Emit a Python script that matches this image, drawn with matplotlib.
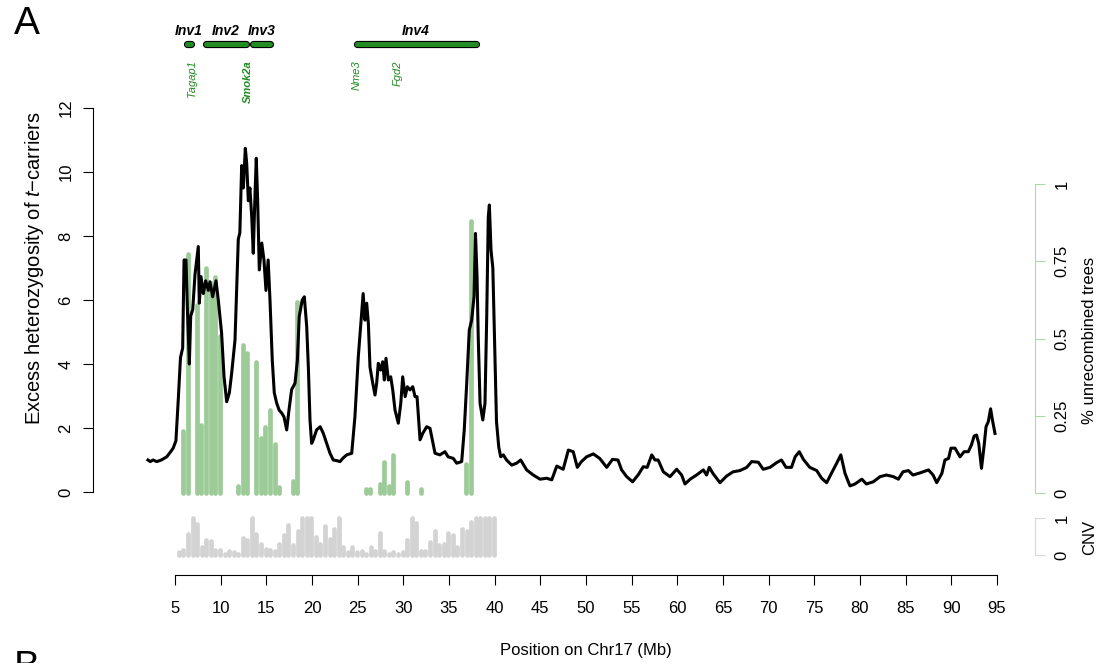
import numpy as np
import matplotlib
matplotlib.use("Agg")
import matplotlib.pyplot as plt

plt.rcParams['font.family'] = ['Liberation Sans', 'DejaVu Sans']
plt.rcParams['mathtext.fontset'] = 'custom'
plt.rcParams['mathtext.rm'] = 'Liberation Sans'
plt.rcParams['mathtext.it'] = 'Liberation Sans:italic'

# excess heterozygosity along chr17 (Mb, value)
het_pos = [2.04, 2.3, 2.6, 3.0, 3.5, 4.1, 4.5, 4.8, 5.1, 5.36, 5.6, 5.84, 5.99, 6.2, 6.35,
           6.57, 6.72, 6.94, 7.19, 7.55, 7.66, 7.85, 8.1, 8.36, 8.65, 8.83, 9.12, 9.49, 9.74,
           10.1, 10.37, 10.66, 10.95, 11.2, 11.57, 11.93, 12.1, 12.3, 12.48, 12.7, 12.85, 13.03,
           13.2, 13.4, 13.57, 13.76, 13.9, 14.05, 14.23, 14.5, 14.74, 14.96, 15.2, 15.4, 15.65,
           15.87, 16.13, 16.4, 16.7, 16.93, 17.23, 17.48, 17.77, 18.14, 18.4, 18.6, 18.93, 19.16,
           19.42, 19.6, 19.78, 19.96, 20.14, 20.5, 20.9, 21.24, 21.6, 21.97, 22.33, 22.7, 23.07,
           23.4, 23.8, 24.35, 24.7, 25.07, 25.4, 25.6, 25.8, 25.99, 26.17, 26.35, 26.65, 26.9,
           27.08, 27.26, 27.52, 27.74, 27.92, 28.1, 28.36, 28.62, 28.84, 29.09, 29.45, 29.72,
           29.93, 30.2, 30.44, 30.73, 31.03, 31.28, 31.5, 31.83, 32.12, 32.56, 32.92, 33.17,
           33.47, 34.0, 34.56, 34.9, 35.47, 35.84, 36.39, 36.67, 36.94, 37.22, 37.48, 37.74,
           37.9, 38.07, 38.2, 38.4, 38.7, 38.94, 39.13, 39.3, 39.42, 39.6, 39.8, 39.93, 40.2,
           40.45, 40.66, 40.95, 41.3, 41.86, 42.4, 42.85, 43.5, 44.23, 44.97, 45.7, 46.25, 46.8,
           47.5, 48.07, 48.6, 49.05, 49.5, 50.07, 50.8, 51.5, 52.27, 52.9, 53.5, 53.9, 54.45,
           55.1, 55.7, 56.27, 56.7, 57.2, 57.55, 57.9, 58.47, 59.2, 59.93, 60.47, 60.84, 61.4,
           62.1, 62.85, 63.2, 63.5, 63.9, 64.67, 65.4, 66.1, 66.86, 67.6, 68.14, 68.87, 69.4,
           70.15, 70.88, 71.4, 71.9, 72.5, 72.9, 73.35, 73.8, 74.5, 75.26, 75.8, 76.35, 76.9,
           77.45, 77.9, 78.36, 78.9, 79.45, 80.2, 80.7, 81.46, 82.2, 82.9, 83.65, 84.2, 84.7,
           85.3, 85.8, 86.6, 87.5, 88.0, 88.4, 88.96, 89.3, 89.7, 89.96, 90.4, 90.95, 91.4,
           91.86, 92.2, 92.5, 92.76, 93.0, 93.3, 93.58, 93.8, 94.05, 94.3, 94.5, 94.78]
het_val = [1.0, 0.95, 1.0, 0.95, 1.0, 1.1, 1.25, 1.37, 1.6, 2.9, 4.2, 4.5, 7.25, 7.25, 5.8,
           4.0, 5.5, 5.7, 6.8, 7.67, 5.9, 6.73, 6.2, 6.6, 6.3, 6.57, 6.1, 6.6, 6.0,
           4.97, 3.6, 2.82, 3.1, 3.7, 4.75, 7.9, 8.1, 10.2, 9.5, 10.74, 10.27, 9.1,
           9.5, 8.6, 7.46, 9.3, 10.43, 9.1, 6.94, 7.78, 7.25, 6.3, 7.25, 6.0, 4.12,
           3.1, 2.78, 2.56, 2.46, 2.35, 1.94, 2.56, 3.2, 3.4, 4.12, 5.48, 6.0, 6.1,
           5.17, 3.9, 2.25, 1.52, 1.63, 1.94, 2.04, 1.83, 1.52, 1.21, 1.0, 0.98, 0.95,
           1.06, 1.16, 1.21, 2.35, 4.23, 5.48, 6.2, 5.37, 5.9, 5.27, 3.9, 3.4, 3.03,
           3.4, 4.02, 3.81, 4.07, 3.5, 4.18, 3.5, 3.6, 3.19, 2.56, 2.15, 2.77,
           3.6, 2.98, 3.29, 3.19, 3.29, 2.98, 2.98, 1.63, 1.83, 2.04, 1.99, 1.63,
           1.21, 1.16, 1.26, 1.1, 1.05, 0.9, 0.95, 1.94, 3.4, 5.06, 5.37, 6.1,
           8.08, 6.73, 4.85, 2.77, 2.25, 2.77, 5.48, 8.6, 8.97, 7.56, 7.0, 5.48, 2.2,
           1.4, 1.1, 1.16, 1.0, 0.84, 0.9, 1.0, 0.69, 0.53, 0.4, 0.43, 0.38, 0.81,
           0.71, 1.31, 1.26, 0.77, 0.95, 1.1, 1.19, 1.05, 0.77, 1.02, 1.0, 0.69, 0.48,
           0.32, 0.53, 0.79, 0.77, 1.16, 1.0, 1.0, 0.63, 0.48, 0.71, 0.53, 0.25, 0.4,
           0.53, 0.69, 0.53, 0.77, 0.58, 0.29, 0.5, 0.63, 0.67, 0.77, 0.95, 0.93, 0.71,
           0.77, 0.92, 1.0, 0.77, 0.77, 1.1, 1.26, 1.02, 0.77, 0.67, 0.43, 0.29, 0.6,
           0.9, 1.16, 0.58, 0.19, 0.25, 0.4, 0.25, 0.32, 0.48, 0.53, 0.48, 0.4, 0.63,
           0.67, 0.53, 0.6, 0.69, 0.53, 0.29, 0.58, 1.0, 1.05, 1.37, 1.37, 1.1, 1.26,
           1.26, 1.47, 1.75, 1.78, 1.52, 0.74, 1.42, 2.04, 2.2, 2.6, 2.25, 1.83]

# fraction of unrecombined trees per 0.5 Mb window
unrec_pos = [5.9, 6.4, 7.4, 7.9, 8.4, 8.9, 9.4, 9.9, 11.9, 12.4, 12.9, 13.9, 14.4, 14.9,
             15.4, 15.9, 16.4, 17.9, 18.4, 25.9, 26.4, 27.4, 27.9, 28.4, 28.9, 30.4, 31.9,
             36.9, 37.4]
unrec_val = [0.20, 0.775, 0.61, 0.22, 0.73, 0.68, 0.70, 0.51, 0.025, 0.48, 0.455, 0.425, 0.18,
             0.215, 0.27, 0.16, 0.02, 0.04, 0.62, 0.015, 0.015, 0.03, 0.10, 0.025, 0.125,
             0.035, 0.015, 0.095, 0.88]

# copy number variation per 0.5 Mb window
cnv_val = [0.09, 0.13, 0.58, 1.0, 0.85, 0.22, 0.40, 0.375, 0.13, 0.15, 0.045, 0.11, 0.09,
           0.045, 0.46, 0.40, 1.0, 0.58, 0.29, 0.18, 0.13, 0.11, 0.29, 0.54, 0.80, 0.27,
           0.65, 1.0, 1.0, 1.0, 0.49, 0.31, 0.79, 0.45, 0.71, 1.0, 0.22, 0.09, 0.22, 0.09,
           0.11, 0.045, 0.22, 0.11, 0.60, 0.11, 0.045, 0.09, 0.045, 0.09, 0.42, 1.0, 0.875,
           0.11, 0.11, 0.36, 0.64, 0.27, 0.29, 0.61, 0.55, 0.22, 0.71, 0.64, 0.89, 1.0, 1.0,
           1.0, 1.0, 1.0]
cnv_pos = 5.42 + 0.5 * np.arange(len(cnv_val))

# inversions (start, end) and genes
inv_names = ['Inv1', 'Inv2', 'Inv3', 'Inv4']
inv_start = [5.91, 8.03, 13.13, 24.52]
inv_end = [7.11, 13.13, 15.76, 38.29]
gene_names = ['Tagap1', 'Smok2a', 'Nme3', 'Fgd2']
gene_pos = [6.82, 13.03, 24.9, 29.35]
gene_bold = [False, True, False, False]

W, H = 1110, 663
GREEN = '#228B22'
LIGHT_GREEN = '#9ccb98'
GREY = '#d3d3d3'
FS = 12


def box(x0, y0, x1, y1):
    return [x0 / W, 1 - y1 / H, (x1 - x0) / W, (y1 - y0) / H]


# pixel <-> Mb scale shared by all panels
px5, px95 = 175, 997
ppm = (px95 - px5) / 90
XL, XR = 93, 1035
xlim = (5 + (XL - px5) / ppm, 5 + (XR - px5) / ppm)

fig = plt.figure(figsize=(W / 100, H / 100), dpi=100)

# unrecombined trees, right axis
axg = fig.add_axes(box(XL, 184, XR, 493.3))
axg.set_xlim(xlim)
axg.set_ylim(0, 1)
axg.vlines(unrec_pos, 0, unrec_val, colors=LIGHT_GREEN, linewidth=3.4,
           capstyle='round', clip_on=False)
for s in ['top', 'left', 'bottom']:
    axg.spines[s].set_visible(False)
axg.spines['right'].set_color('#a9dba9')
axg.spines['right'].set_bounds(0, 1)
axg.yaxis.tick_right()
axg.set_xticks([])
axg.set_yticks([0, 0.25, 0.5, 0.75, 1])
axg.set_yticklabels(['0', '0.25', '0.5', '0.75', '1'], rotation=90, va='center')
axg.tick_params(axis='y', length=7, color='#a9dba9', labelsize=FS, pad=7)
axg.patch.set_visible(False)

# heterozygosity, left axis
ax = fig.add_axes(box(XL, 44, XR, 492))
ax.set_xlim(xlim)
ax.set_ylim(0, 14)
ax.patch.set_visible(False)
ax.plot(het_pos, het_val, color='black', linewidth=2.2, solid_joinstyle='round')
for s in ['top', 'right', 'bottom']:
    ax.spines[s].set_visible(False)
ax.spines['left'].set_bounds(0, 12)
ax.spines['left'].set_linewidth(0.8)
ax.set_xticks([])
ax.set_yticks(range(0, 13, 2))
ax.set_yticklabels([str(v) for v in range(0, 13, 2)], rotation=90, va='center')
ax.tick_params(axis='y', length=7, width=0.8, labelsize=FS, pad=7)

# inversions on top
r = 3.3 / ppm
for name, a, b in zip(inv_names, inv_start, inv_end):
    ax.plot([a + r, b - r], [14, 14], color='black', linewidth=5.2,
            solid_capstyle='round', clip_on=False)
    ax.plot([a + r, b - r], [14, 14], color=GREEN, linewidth=3.6,
            solid_capstyle='round', clip_on=False)
    ax.text((a + b) / 2, 14.42, name, ha='center', va='center', fontsize=10,
            fontweight='bold', fontstyle='italic', clip_on=False)
for g, p, bold in zip(gene_names, gene_pos, gene_bold):
    ax.text(p, 13.5, g, rotation=90, ha='center', va='top', fontsize=8,
            fontstyle='italic', fontweight='bold' if bold else 'normal',
            color=GREEN, clip_on=False)

# CNV strip
axc = fig.add_axes(box(XL, 518, XR, 555.3))
axc.set_xlim(xlim)
axc.set_ylim(0, 1)
axc.vlines(cnv_pos, 0, cnv_val, colors=GREY, linewidth=3.4, capstyle='round',
           clip_on=False)
for s in ['top', 'left', 'bottom']:
    axc.spines[s].set_visible(False)
axc.spines['right'].set_color('#d8d8d8')
axc.spines['right'].set_bounds(0, 1)
axc.yaxis.tick_right()
axc.set_xticks([])
axc.set_yticks([0, 1])
axc.set_yticklabels(['0', '1'], rotation=90, va='center')
axc.tick_params(axis='y', length=7, color='#d8d8d8', labelsize=FS, pad=7)
axc.patch.set_visible(False)

# shared position axis
axx = fig.add_axes(box(XL, 565, XR, 575))
axx.set_xlim(xlim)
for s in ['top', 'left', 'right']:
    axx.spines[s].set_visible(False)
axx.spines['bottom'].set_bounds(5, 95)
axx.spines['bottom'].set_linewidth(0.8)
axx.set_yticks([])
axx.set_xticks(range(5, 96, 5))
axx.tick_params(axis='x', length=7, width=0.8, labelsize=FS, pad=12)
axx.patch.set_visible(False)

fig.text(35 / W, 1 - 268 / H, r'Excess heterozygosity of $\mathit{t}$−carriers',
         rotation=90, ha='center', va='center', fontsize=14.5)
fig.text(1090 / W, 1 - 340 / H, '% unrecombined trees', rotation=90,
         ha='center', va='center', fontsize=FS)
fig.text(1090 / W, 1 - 537 / H, 'CNV', rotation=90, ha='center', va='center',
         fontsize=FS)
fig.text(586 / W, 1 - 650 / H, 'Position on Chr17 (Mb)', ha='center', va='center',
         fontsize=FS)
fig.text(14 / W, 1 - 6 / H, 'A', ha='left', va='top', fontsize=28)
fig.text(14 / W, 1 - 650 / H, 'B', ha='left', va='top', fontsize=28)

fig.savefig('out.png', dpi=100)
